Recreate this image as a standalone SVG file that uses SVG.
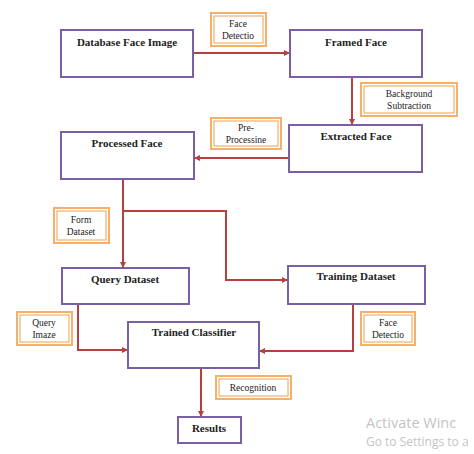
<svg xmlns="http://www.w3.org/2000/svg" width="474" height="454" viewBox="0 0 474 454">
<defs>
<marker id="ah" markerWidth="6" markerHeight="6" refX="5" refY="3" orient="auto" markerUnits="userSpaceOnUse">
<path d="M0,0 L6,3 L0,6 Z" fill="#b5403f"/>
</marker>
<style>
.node{fill:#fff;stroke:#7a5fa6;stroke-width:2}
.t{font-family:"Liberation Serif",serif;font-weight:bold;font-size:11px;fill:#222;text-anchor:middle}
.lo{fill:#fff;stroke:#f5b06a;stroke-width:2}
.li{fill:none;stroke:#f0a050;stroke-width:1}
.lt{font-family:"Liberation Serif",serif;font-size:9.5px;fill:#222;text-anchor:middle}
.c{fill:none;stroke:#b5403f;stroke-width:2}
.wm{font-family:"Open Sans","DejaVu Sans",sans-serif;fill:#c4c4c4}
</style>
</defs>
<rect width="474" height="454" fill="#fff"/>
<g id="connectors">
<path class="c" d="M193,53 H289" marker-end="url(#ah)"/>
<path class="c" d="M352,77 V124" marker-end="url(#ah)"/>
<path class="c" d="M289,158 H195" marker-end="url(#ah)"/>
<path class="c" d="M123,180 V267" marker-end="url(#ah)"/>
<path class="c" d="M123,211 H226 V280 H287" marker-end="url(#ah)"/>
<path class="c" d="M78,304 V350 H127" marker-end="url(#ah)"/>
<path class="c" d="M353,304 V351 H260" marker-end="url(#ah)"/>
<path class="c" d="M201,368 V416" marker-end="url(#ah)"/>
</g>
<g id="n-database"><rect class="node" x="61" y="30" width="132" height="47"/><text class="t" x="127" y="46">Database Face Image</text></g>
<g id="n-framed"><rect class="node" x="290" y="30" width="132" height="47"/><text class="t" x="356" y="46">Framed Face</text></g>
<g id="n-extracted"><rect class="node" x="289" y="125" width="133" height="47"/><text class="t" x="356" y="140">Extracted Face</text></g>
<g id="n-processed"><rect class="node" x="61" y="132" width="133" height="47"/><text class="t" x="127" y="147">Processed Face</text></g>
<g id="n-query"><rect class="node" x="62" y="268" width="127" height="36"/><text class="t" x="125" y="283">Query Dataset</text></g>
<g id="n-training"><rect class="node" x="288" y="266" width="137" height="38"/><text class="t" x="356" y="280">Training Dataset</text></g>
<g id="n-classifier"><rect class="node" x="128" y="322" width="131" height="46"/><text class="t" x="194" y="336">Trained Classifier</text></g>
<g id="n-results"><rect class="node" x="178" y="417" width="63" height="26"/><text class="t" x="209" y="432">Results</text></g>
<g id="l-facedet1"><rect class="lo" x="211" y="13" width="55" height="33"/><rect class="li" x="214" y="16" width="49" height="27"/><text class="lt" x="238" y="27">Face</text><text class="lt" x="238" y="39">Detectio</text></g>
<g id="l-bgsub"><rect class="lo" x="361" y="83" width="96" height="33"/><rect class="li" x="364" y="86" width="90" height="27"/><text class="lt" x="409" y="97">Background</text><text class="lt" x="409" y="109">Subtraction</text></g>
<g id="l-preproc"><rect class="lo" x="211" y="118" width="70" height="31"/><rect class="li" x="214" y="121" width="64" height="25"/><text class="lt" x="246" y="131">Pre-</text><text class="lt" x="246" y="143">Processine</text></g>
<g id="l-form"><rect class="lo" x="54" y="208" width="55" height="35"/><rect class="li" x="57" y="211" width="49" height="29"/><text class="lt" x="81" y="223">Form</text><text class="lt" x="81" y="235">Dataset</text></g>
<g id="l-queryimg"><rect class="lo" x="17" y="312" width="55" height="33"/><rect class="li" x="20" y="315" width="49" height="27"/><text class="lt" x="44" y="326">Query</text><text class="lt" x="44" y="338">Imaze</text></g>
<g id="l-facedet2"><rect class="lo" x="361" y="312" width="54" height="33"/><rect class="li" x="364" y="315" width="48" height="27"/><text class="lt" x="388" y="326">Face</text><text class="lt" x="388" y="338">Detectio</text></g>
<g id="l-recog"><rect class="lo" x="216" y="376" width="75" height="23"/><rect class="li" x="219" y="379" width="69" height="17"/><text class="lt" x="253" y="391">Recognition</text></g>
<text class="wm" x="366" y="428" font-size="14.5">Activate Winc</text>
<text class="wm" x="366" y="446" font-size="12">Go to Settings to a</text>
</svg>
